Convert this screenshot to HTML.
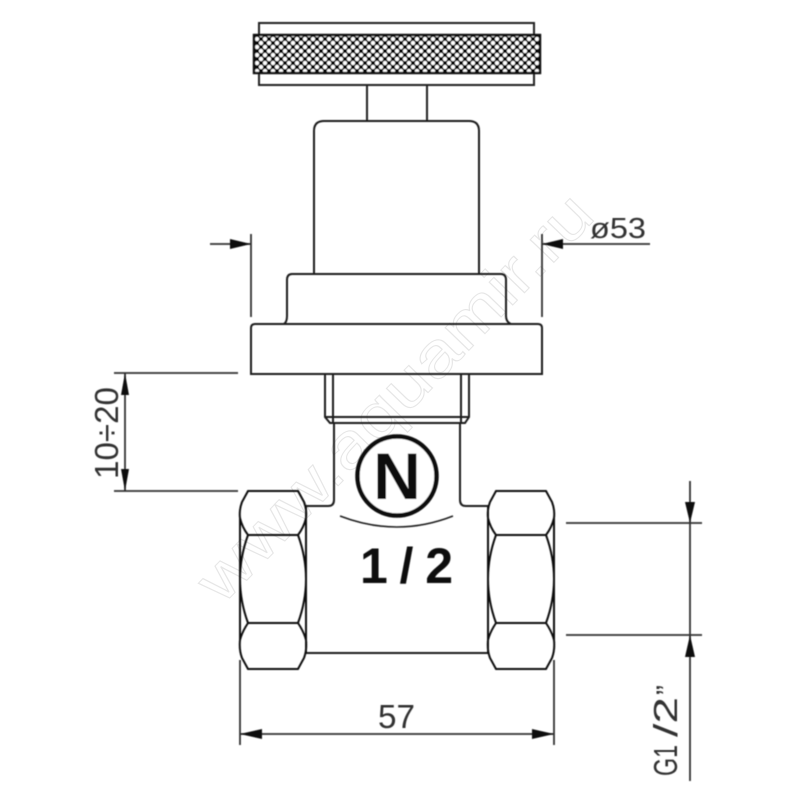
<!DOCTYPE html>
<html>
<head>
<meta charset="utf-8">
<style>
html,body{margin:0;padding:0;background:#fff;}
svg{display:block;}
text{font-family:"Liberation Sans",sans-serif;}
</style>
</head>
<body>
<svg width="800" height="800" viewBox="0 0 800 800" xmlns="http://www.w3.org/2000/svg">
<defs>
<filter id="soft" x="-5%" y="-5%" width="110%" height="110%"><feGaussianBlur stdDeviation="0.45"/></filter>
<pattern id="knurl" x="255" y="37" width="8" height="8" patternUnits="userSpaceOnUse">
<rect width="8" height="8" fill="#111"/>
<circle cx="2" cy="2" r="2.1" fill="#fff"/>
<circle cx="6" cy="6" r="2.1" fill="#fff"/>
</pattern>
<g id="nut" fill="none" stroke="#111" stroke-width="2">
<path d="M248,491 H298 L304,502 Q307,510 306,518 Q304,527 298,535 H248 Q242,527 240,518 Q239,510 242,502 Z"/>
<path d="M248,535 Q232,579 248,623 M298,535 Q314,579 298,623"/>
<path d="M248,623 H298 Q304,632 306,640 Q307,650 304,658 L298,669 H248 L242,658 Q239,650 240,640 Q242,632 248,623 Z"/>
<path d="M240,518 V640 M306,518 V640"/>
</g>
</defs>
<rect width="800" height="800" fill="#fff"/>

<!-- watermark -->
<text x="0" y="0" transform="translate(222,606) rotate(-46)" font-size="62" fill="#fff" stroke="#e6e6e6" stroke-width="1" textLength="540" lengthAdjust="spacingAndGlyphs">www.aquamir.ru</text>

<g filter="url(#soft)">
<!-- knob -->
<rect x="259" y="23" width="275" height="62" fill="none" stroke="#222" stroke-width="2"/>
<rect x="254" y="35" width="286" height="38" fill="url(#knurl)" stroke="#111" stroke-width="2.4"/>
<path d="M367,85 V121 M427,85 V121" fill="none" stroke="#222" stroke-width="2"/>

<!-- body -->
<g fill="none" stroke="#1a1a1a" stroke-width="2">
<path d="M314,274 V131 Q314,121 324,121 H469 Q479,121 479,131 V274"/>
<path d="M284,324 Q287,322 287,316 V280 Q287,274 292,274 H501 Q506,274 506,280 V316 Q506,322 511,324"/>
<path d="M255,324 H538 Q542,324 542,328 V374 H251 V328 Q251,324 255,324 Z"/>
<path d="M325,374 V417 L330,423 H465 L469,417 V374 M333,374 V423 M461,374 V423 M325,417 H469"/>
<path d="M334,423 V500 Q334,506 328,506 H306 M460,423 V500 Q460,506 466,506 H488"/>
<path d="M306,653 H488"/>
<path d="M306,506 V653 M488,506 V653"/>
</g>
<use href="#nut"/>
<use href="#nut" transform="translate(248,0)"/>

<!-- N badge -->
<circle cx="397" cy="476" r="39.5" fill="#fff" stroke="#111" stroke-width="4.5"/>
<text x="397" y="499" font-size="66" font-weight="bold" fill="#111" text-anchor="middle">N</text>
<path d="M340,516 Q397,538 453,516" fill="none" stroke="#222" stroke-width="1.6"/>
<text x="360" y="583" font-size="50" font-weight="bold" fill="#111" textLength="93" lengthAdjust="spacing">1 / 2</text>

<!-- dimensions -->
<g fill="none" stroke="#333" stroke-width="1.8">
<path d="M210,244 H251 M251,234 V317"/>
<path d="M542,234 V317 M542,244 H650"/>
<path d="M114,373 H238 M114,491 H238 M125,373 V491"/>
<path d="M566,523 H702 M566,635 H702 M690,481 V781"/>
<path d="M240,660 V745 M554,660 V745 M240,734 H554"/>
</g>
<g fill="#111" stroke="none">
<path d="M251,244 L230,239 V249 Z"/>
<path d="M542,244 L563,239 V249 Z"/>
<path d="M125,373 L121,395 H129 Z"/>
<path d="M125,491 L121,469 H129 Z"/>
<path d="M690,523 L685,502 H695 Z"/>
<path d="M690,635 L685,657 H695 Z"/>
<path d="M240,734 L262,729 V739 Z"/>
<path d="M554,734 L532,729 V739 Z"/>
</g>
<g fill="#333">
<text x="590" y="238" font-size="29" textLength="56" lengthAdjust="spacingAndGlyphs">ø53</text>
<text x="378" y="728" font-size="33" textLength="37" lengthAdjust="spacingAndGlyphs">57</text>
<text transform="translate(118,479) rotate(-90)" font-size="33" textLength="92" lengthAdjust="spacingAndGlyphs">10÷20</text>
<text transform="translate(677,776) rotate(-90)" font-size="33"><tspan textLength="31" lengthAdjust="spacingAndGlyphs">G1</tspan><tspan x="39" textLength="40" lengthAdjust="spacingAndGlyphs">/2</tspan><tspan x="81" font-size="30">”</tspan></text>
</g>
</g>
</svg>
</body>
</html>
